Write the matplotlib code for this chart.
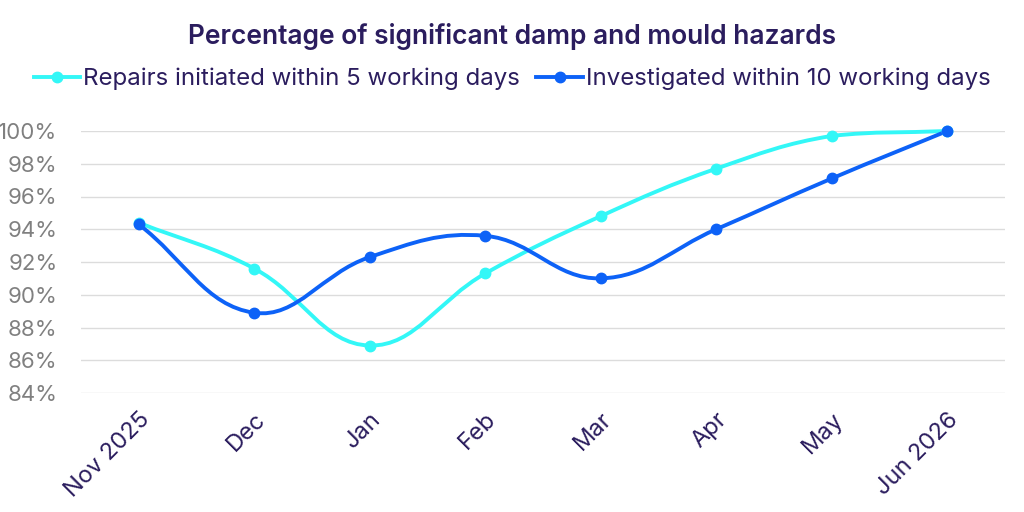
import numpy as np
import matplotlib.pyplot as plt
from matplotlib.path import Path
from matplotlib.patches import PathPatch
from matplotlib.lines import Line2D

plt.rcParams['font.family'] = ['Inter', 'DejaVu Sans']

# 数据
months = ['Nov 2025', 'Dec', 'Jan', 'Feb', 'Mar', 'Apr', 'May', 'Jun 2026']
repairs = [94.4, 91.6, 86.9, 91.3, 94.8, 97.7, 99.7, 100.0]
investigated = [94.3, 88.9, 92.3, 93.6, 91.0, 94.0, 97.1, 100.0]

navy = '#2b1d5e'
cyan = '#33f7f7'
blue = '#0d62f7'

fig = plt.figure(figsize=(10.24, 5.12), dpi=100)
ax = fig.add_axes([81 / 1024, 1 - 393 / 512, (1005 - 81) / 1024, (393 - 131) / 512])
ax.set_xlim(-0.5, len(months) - 0.5)
ax.set_ylim(84, 100)


def spline_path(xs, ys, tension=0.4):
    # 类似 Chart.js 的样条曲线，在像素坐标里算控制点
    pts = ax.transData.transform(np.column_stack([xs, ys]))
    bb = ax.bbox
    n = len(pts)
    ctrl_prev, ctrl_next = [], []
    for i in range(n):
        cur = pts[i]
        prev = pts[i - 1] if i > 0 else cur
        nxt = pts[i + 1] if i < n - 1 else cur
        d01 = np.hypot(*(cur - prev))
        d12 = np.hypot(*(nxt - cur))
        tot = d01 + d12
        s01 = d01 / tot if tot else 0
        s12 = d12 / tot if tot else 0
        cp = cur - tension * s01 * (nxt - prev)
        cn = cur + tension * s12 * (nxt - prev)
        for c in (cp, cn):
            c[0] = min(max(c[0], bb.x0), bb.x1)
            c[1] = min(max(c[1], bb.y0), bb.y1)
        ctrl_prev.append(cp)
        ctrl_next.append(cn)
    verts = [pts[0]]
    codes = [Path.MOVETO]
    for i in range(n - 1):
        verts += [ctrl_next[i], ctrl_prev[i + 1], pts[i + 1]]
        codes += [Path.CURVE4] * 3
    verts = ax.transData.inverted().transform(np.array(verts))
    return Path(verts, codes)


x = np.arange(len(months))
for vals, col in [(repairs, cyan), (investigated, blue)]:
    patch = PathPatch(spline_path(x, vals), facecolor='none', edgecolor=col,
                      lw=2.8, capstyle='round', joinstyle='round', clip_on=False)
    ax.add_patch(patch)
    ax.plot(x, vals, 'o', color=col, markersize=7.5, clip_on=False, zorder=3)

# 网格和坐标轴
ax.set_yticks(np.arange(84, 101, 2))
ax.set_yticklabels([f'{v}%' for v in range(84, 101, 2)])
ax.grid(axis='y', color='#dcdcdc', lw=1)
ax.set_axisbelow(True)
for s in ax.spines.values():
    s.set_visible(False)
ax.tick_params(axis='y', length=0, pad=17, labelsize=16, labelcolor='#808080')
ax.set_xticks(x)
ax.set_xticklabels(months, rotation=45, ha='right', va='top', rotation_mode='anchor')
ax.tick_params(axis='x', length=0, pad=11, labelsize=17, labelcolor=navy)

fig.text(0.5, 1 - 36 / 512, 'Percentage of significant damp and mould hazards',
         ha='center', va='center', fontsize=19, fontweight='semibold', color=navy)

handles = [Line2D([], [], color=cyan, lw=2.8, marker='o', markersize=7.5),
           Line2D([], [], color=blue, lw=2.8, marker='o', markersize=7.5)]
labels = ['Repairs initiated within 5 working days', 'Investigated within 10 working days']
leg = fig.legend(handles, labels, loc='center', bbox_to_anchor=(0.5, 1 - 79 / 512), ncol=2,
                 frameon=False, fontsize=17.3, handlelength=1.95, handletextpad=0.1,
                 columnspacing=0.7, labelcolor=navy)

plt.savefig('out.png', dpi=100)
